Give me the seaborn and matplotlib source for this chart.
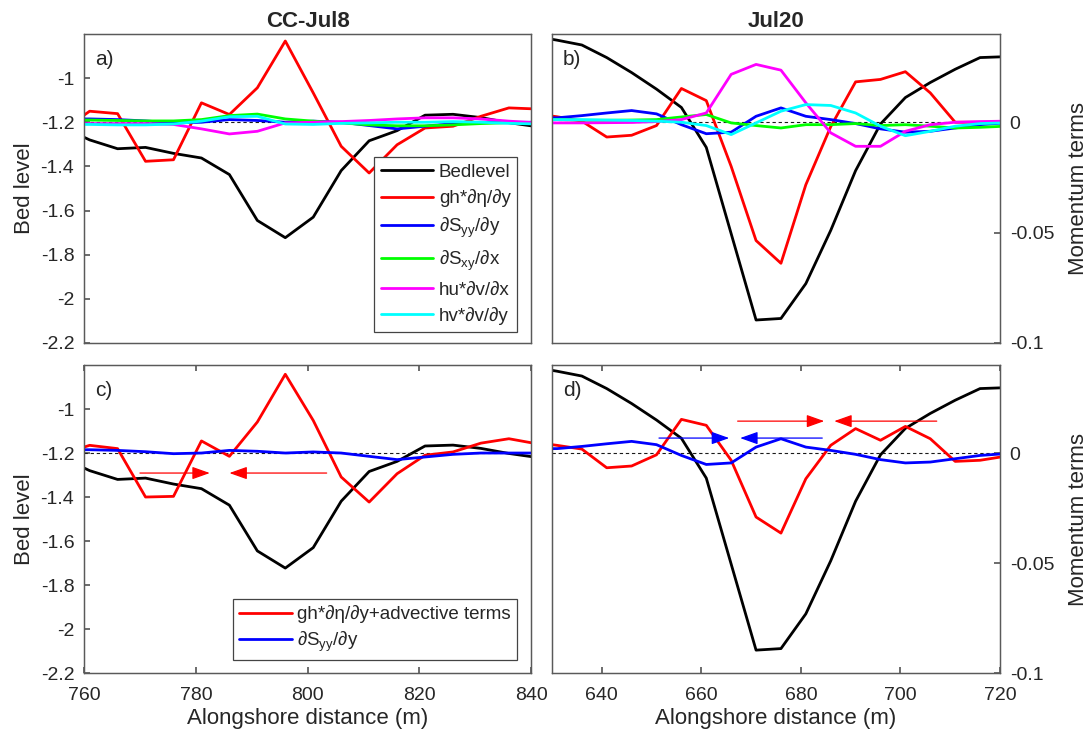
"""
Alongshore momentum balance over a rip channel: CC-Jul8 and Jul20.
Bed level on the left axis, momentum terms on the right axis.
"""

import matplotlib
matplotlib.use("Agg")
import matplotlib.pyplot as plt
import seaborn as sns

# ── data: CC-Jul8 (panels a, c) ──────────────────────────────────────────────
x_jul8 = [756, 761, 766, 771, 776, 781, 786, 791, 796,
          801, 806, 811, 816, 821, 826, 831, 836, 841]
bed_jul8 = [-1.22, -1.28, -1.32, -1.314, -1.341, -1.362, -1.437, -1.645, -1.723,
            -1.630, -1.419, -1.284, -1.238, -1.168, -1.164, -1.179, -1.202, -1.22]
pres_jul8 = [-0.004, 0.0050, 0.0039, -0.0177, -0.0170, 0.0088, 0.0035, 0.0156, 0.0368,
             0.0133, -0.0109, -0.0230, -0.0102, -0.0026, -0.0018, 0.0027, 0.0065, 0.0060]
syy_jul8 = [0.0015, 0.0015, 0.0012, 0.0006, -0.0003, 0.0, 0.0012, 0.0008, 0.0,
            0.0005, 0.0, -0.0015, -0.0030, -0.0018, -0.0006, 0.0, 0.0, 0.0]
sxy_jul8 = [0.001, 0.001, 0.0008, 0.0006, 0.0006, 0.0012, 0.0030, 0.0037, 0.0015,
            0.0005, -0.0003, -0.0012, -0.0016, -0.0016, -0.0012, -0.0006, -0.0002, -0.0005]
hu_jul8 = [-0.0006, -0.0006, -0.0006, -0.0006, -0.0010, -0.0030, -0.0053, -0.0041, -0.0003,
           0.0, 0.0003, 0.0008, 0.0015, 0.0020, 0.0020, 0.0015, 0.0005, -0.0003]
hv_jul8 = [-0.001, -0.001, -0.0012, -0.0012, -0.0008, 0.0005, 0.0025, 0.0027, -0.0008,
           -0.0010, -0.0005, -0.0003, 0.0, 0.0, 0.0003, 0.0, -0.0005, -0.0008]
presadv_jul8 = [-0.0005, 0.0035, 0.0020, -0.0200, -0.0197, 0.0055, -0.0015, 0.0141, 0.0358,
                0.0148, -0.0109, -0.0223, -0.0094, -0.0010, 0.0005, 0.0045, 0.0065, 0.0042]

# ── data: Jul20 (panels b, d) ────────────────────────────────────────────────
x_jul20 = [626, 631, 636, 641, 646, 651, 656, 661, 666, 671,
           676, 681, 686, 691, 696, 701, 706, 711, 716, 721]
bed_jul20 = [-0.809, -0.828, -0.850, -0.907, -0.975, -1.050, -1.133, -1.314, -1.705, -2.096,
             -2.089, -1.931, -1.690, -1.419, -1.208, -1.088, -1.020, -0.960, -0.907, -0.903]
pres_jul20 = [0.004, 0.0025, 0.0005, -0.0067, -0.0059, -0.0015, 0.0153, 0.0098, -0.0200, -0.0536,
              -0.0639, -0.0283, -0.0020, 0.0183, 0.0194, 0.0229, 0.0133, 0.0, 0.0, 0.0]
syy_jul20 = [0.002, 0.0020, 0.0030, 0.0042, 0.0053, 0.0038, -0.0011, -0.0052, -0.0045, 0.0027,
             0.0065, 0.0027, 0.0012, -0.0006, -0.0030, -0.0045, -0.0041, -0.0026, -0.0011, -0.0003]
sxy_jul20 = [0.0012, 0.0012, 0.0009, 0.0009, 0.0010, 0.0012, 0.0024, 0.0035, -0.0003, -0.0015,
             -0.0026, -0.0011, -0.0011, -0.0006, -0.0015, -0.0011, -0.0018, -0.0026, -0.0023, -0.0018]
hu_jul20 = [-0.0003, -0.0003, -0.0003, -0.0002, -0.0001, 0.0003, 0.0012, 0.0042, 0.0217, 0.0262,
            0.0236, 0.0088, -0.0048, -0.0109, -0.0109, -0.0041, -0.0011, 0.0, 0.0003, 0.0005]
hv_jul20 = [0.0012, 0.0012, 0.0012, 0.0010, 0.0008, 0.0005, 0.0, -0.0015, -0.0056, -0.0003,
            0.0050, 0.0080, 0.0076, 0.0042, -0.0018, -0.0061, -0.0041, -0.0018, -0.0006, -0.0003]
presadv_jul20 = [0.005, 0.0035, 0.0018, -0.0067, -0.0059, -0.0008, 0.0153, 0.0126, -0.0033, -0.0291,
                 -0.0364, -0.0117, 0.0035, 0.0111, 0.0058, 0.0121, 0.0065, -0.0038, -0.0033, -0.0015]

# arrows (start x, end x, y on momentum axis)
arrows_c = [(770.0, 782.5, -0.0091, "red"), (803.4, 786.0, -0.0091, "red")]
arrows_d = [(667.3, 684.7, 0.0145, "red"), (707.3, 686.7, 0.0145, "red"),
            (651.5, 665.6, 0.0068, "blue"), (684.3, 667.8, 0.0068, "blue")]

titles = ["CC-Jul8", "Jul20"]
xticks_jul8 = [760, 780, 800, 820, 840]
xticks_jul20 = [640, 660, 680, 700, 720]
bed_ticks = [-2.2, -2.0, -1.8, -1.6, -1.4, -1.2, -1.0]
bed_ticklabels = ["-2.2", "-2", "-1.8", "-1.6", "-1.4", "-1.2", "-1"]
mom_ticks = [-0.1, -0.05, 0]
mom_ticklabels = ["-0.1", "-0.05", "0"]

lab_pres = "gh*∂η/∂y"
lab_syy = r"∂S$_\mathregular{yy}$/∂y"
lab_sxy = r"∂S$_\mathregular{xy}$/∂x"
lab_hu = "hu*∂v/∂x"
lab_hv = "hv*∂v/∂y"
lab_presadv = "gh*∂η/∂y+advective terms"

# ── style ────────────────────────────────────────────────────────────────────
sns.set_theme(style="white")
plt.rcParams["font.family"] = ["Liberation Sans", "DejaVu Sans"]
plt.rcParams["axes.unicode_minus"] = False
plt.rcParams["mathtext.fontset"] = "custom"
plt.rcParams["mathtext.rm"] = "Liberation Sans"

LW = 2.0
EDGE = "#5a5a5a"

fig = plt.figure(figsize=(10.9, 7.43), dpi=100)
pos = {
    "a": [0.0771, 0.5384, 0.4103, 0.4159],
    "b": [0.5064, 0.5384, 0.4110, 0.4159],
    "c": [0.0771, 0.0942, 0.4103, 0.4145],
    "d": [0.5064, 0.0942, 0.4110, 0.4145],
}


def make_axes(key, xlim, left_side, bottom_row):
    ax = fig.add_axes(pos[key])
    ax2 = ax.twinx()
    for a in (ax, ax2):
        for s in a.spines.values():
            s.set_color(EDGE)
            s.set_linewidth(0.9)
    ax.set_xlim(*xlim)
    ax.set_ylim(-2.2, -0.8)
    ax2.set_ylim(-0.1, 0.04)
    ax.tick_params(axis="y", direction="in", length=4, color=EDGE,
                   labelsize=14, pad=7)
    ax.tick_params(axis="x", direction="in", length=4, color=EDGE,
                   labelsize=14, pad=10, top=True, bottom=True)
    ax2.tick_params(axis="y", direction="in", length=4, color=EDGE,
                    labelsize=14, pad=7)
    if left_side:
        ax.set_yticks(bed_ticks, bed_ticklabels)
        ax.set_ylabel("Bed level", fontsize=16, labelpad=4)
        ax2.set_yticks([])
    else:
        ax.set_yticks([])
        ax2.set_yticks(mom_ticks, mom_ticklabels)
        ax2.set_ylabel("Momentum terms", fontsize=16, labelpad=10)
    if not bottom_row:
        ax.set_xticks([])
    ax.set_xlabel("")
    ax2.axhline(0, color="k", ls=(0, (3, 2.5)), lw=0.8, zorder=1)
    ax.text(0.024, 0.916, key + ")", transform=ax.transAxes,
            fontsize=15, ha="left", va="center")
    return ax, ax2


def draw_arrows(ax2, arrows):
    for x0, x1, y, col in arrows:
        ax2.annotate("", xy=(x1, y), xytext=(x0, y),
                     arrowprops=dict(arrowstyle="-|>,head_length=0.9,head_width=0.32",
                                     color=col, lw=0.9, shrinkA=0, shrinkB=0))


# ── panels a, b: all terms ───────────────────────────────────────────────────
for key, xs, bed, pres, syy, sxy, hu, hv, xlim in [
    ("a", x_jul8, bed_jul8, pres_jul8, syy_jul8, sxy_jul8, hu_jul8, hv_jul8, (760, 840)),
    ("b", x_jul20, bed_jul20, pres_jul20, syy_jul20, sxy_jul20, hu_jul20, hv_jul20, (630, 720)),
]:
    ax, ax2 = make_axes(key, xlim, key == "a", False)
    sns.lineplot(x=xs, y=bed, ax=ax, color="black", lw=LW, label="Bedlevel", legend=False)
    sns.lineplot(x=xs, y=pres, ax=ax2, color="red", lw=LW, label=lab_pres, legend=False)
    sns.lineplot(x=xs, y=syy, ax=ax2, color="blue", lw=LW, label=lab_syy, legend=False)
    sns.lineplot(x=xs, y=sxy, ax=ax2, color="lime", lw=LW, label=lab_sxy, legend=False)
    sns.lineplot(x=xs, y=hu, ax=ax2, color="magenta", lw=LW, label=lab_hu, legend=False)
    sns.lineplot(x=xs, y=hv, ax=ax2, color="cyan", lw=LW, label=lab_hv, legend=False)
    ax.set_ylim(-2.2, -0.8)
    ax2.set_ylim(-0.1, 0.04)
    ax.set_xlim(*xlim)
    ax.set_title(titles[0] if key == "a" else titles[1], fontsize=16,
                 fontweight="bold", pad=5)
    if key == "a":
        h1, l1 = ax.get_legend_handles_labels()
        h2, l2 = ax2.get_legend_handles_labels()
        leg = ax2.legend(h1 + h2, l1 + l2, loc="lower right",
                         bbox_to_anchor=(0.969, 0.037), borderaxespad=0,
                         fontsize=13.5, frameon=True, fancybox=False,
                         edgecolor="#444444", framealpha=1, handlelength=2.8,
                         handletextpad=0.3, labelspacing=0.45, borderpad=0.35)
        leg.get_frame().set_linewidth(0.9)
        leg.set_zorder(10)

# ── panels c, d: pressure + advection vs radiation stress ────────────────────
for key, xs, bed, presadv, syy, xlim, xticks, arrows in [
    ("c", x_jul8, bed_jul8, presadv_jul8, syy_jul8, (760, 840), xticks_jul8, arrows_c),
    ("d", x_jul20, bed_jul20, presadv_jul20, syy_jul20, (630, 720), xticks_jul20, arrows_d),
]:
    ax, ax2 = make_axes(key, xlim, key == "c", True)
    sns.lineplot(x=xs, y=bed, ax=ax, color="black", lw=LW, legend=False)
    sns.lineplot(x=xs, y=presadv, ax=ax2, color="red", lw=LW, label=lab_presadv, legend=False)
    sns.lineplot(x=xs, y=syy, ax=ax2, color="blue", lw=LW, label=lab_syy, legend=False)
    ax.set_ylim(-2.2, -0.8)
    ax2.set_ylim(-0.1, 0.04)
    ax.set_xlim(*xlim)
    ax.set_xticks(xticks)
    ax.set_xlabel("Alongshore distance (m)", fontsize=16, labelpad=3)
    draw_arrows(ax2, arrows)
    if key == "c":
        leg = ax2.legend(loc="lower right", bbox_to_anchor=(0.969, 0.042),
                         borderaxespad=0, fontsize=13.5, frameon=True, fancybox=False,
                         edgecolor="#444444", framealpha=1, handlelength=2.8,
                         handletextpad=0.3, labelspacing=0.3, borderpad=0.35)
        leg.get_frame().set_linewidth(0.9)
        leg.set_zorder(10)

fig.savefig("out.png", dpi=100)
